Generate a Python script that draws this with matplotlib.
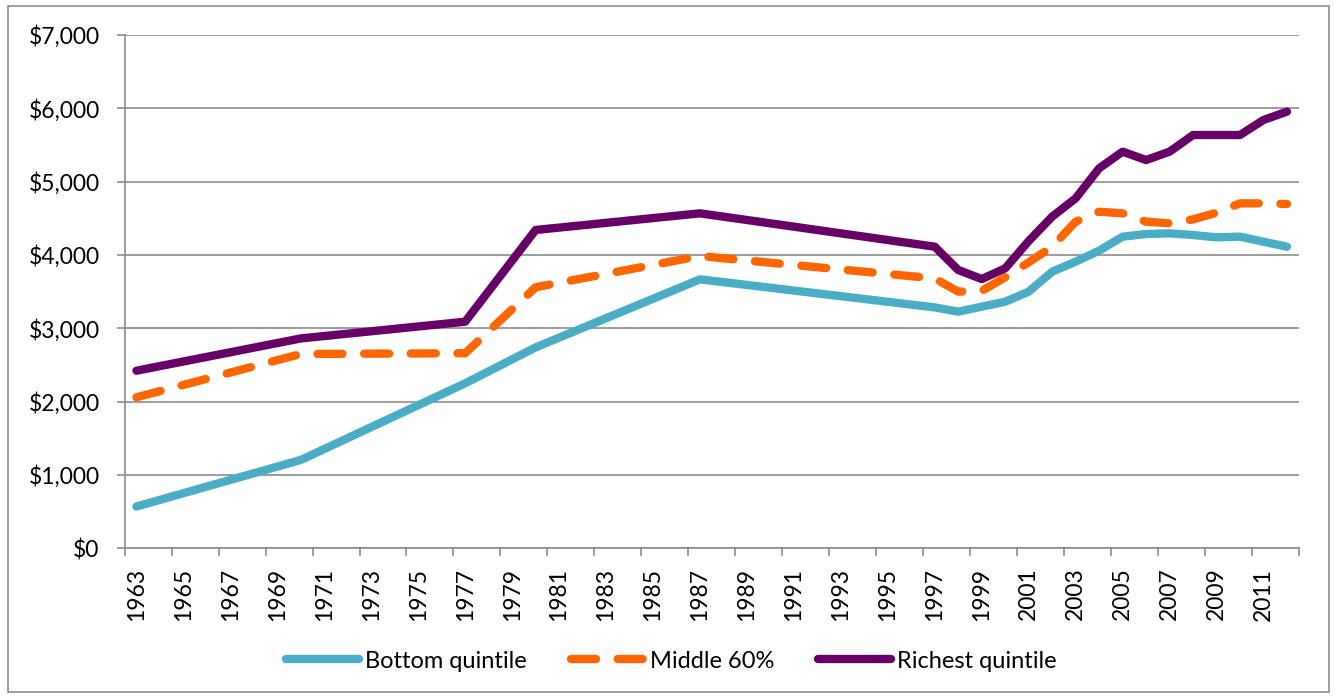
import matplotlib
matplotlib.use("Agg")
import matplotlib.pyplot as plt
from matplotlib.patches import Rectangle
from matplotlib.ticker import FuncFormatter

years = [1963, 1970, 1977, 1980, 1987, 1997, 1998, 1999, 2000, 2001, 2002,
         2003, 2004, 2005, 2006, 2007, 2008, 2009, 2010, 2011, 2012]
bottom = [570, 1205, 2250, 2740, 3668, 3285, 3227, 3295, 3363, 3500, 3772,
          3909, 4059, 4250, 4286, 4295, 4272, 4241, 4250, 4181, 4113]
middle = [2059, 2650, 2660, 3560, 3986, 3680, 3500, 3510, 3696, 3900, 4113,
          4454, 4590, 4568, 4454, 4432, 4486, 4577, 4704, 4704, 4695]
richest = [2422, 2862, 3090, 4341, 4568, 4113, 3795, 3672, 3818, 4190, 4523,
           4773, 5182, 5409, 5295, 5409, 5636, 5636, 5636, 5841, 5955]

series_names = ["Bottom quintile", "Middle 60%", "Richest quintile"]
label_years = list(range(1963, 2012, 2))
y_ticks = list(range(0, 7001, 1000))

plt.rcParams['font.family'] = ['Lato', 'DejaVu Sans']

fig = plt.figure(figsize=(13.35, 6.98), dpi=100)
ax = fig.add_axes([124.7 / 1335, 1 - 548.3 / 698, (1298.7 - 124.7) / 1335, (548.3 - 35) / 698])

grid_c = '#8c8c8c'
lw = 6
ax.plot(years, bottom, color='#4BACC6', lw=lw, solid_capstyle='round',
        solid_joinstyle='round', label=series_names[0], zorder=3)
ax.plot(years, middle, color='#FF6600', lw=lw, dashes=(3, 2.6),
        dash_capstyle='round', dash_joinstyle='round', label=series_names[1], zorder=3)
ax.plot(years, richest, color='#660066', lw=lw, solid_capstyle='round',
        solid_joinstyle='round', label=series_names[2], zorder=3)

ax.set_xlim(1962.5, 2012.5)
ax.set_ylim(0, 7000)
ax.set_yticks(y_ticks)
ax.yaxis.set_major_formatter(FuncFormatter(lambda v, p: "${:,.0f}".format(v)))
ax.set_xticks(label_years)
ax.set_xticklabels([str(y) for y in label_years], rotation=90)
ax.set_xticks([1962.5 + 2 * k for k in range(26)], minor=True)
ax.tick_params(axis='x', which='major', length=0, pad=14, labelsize=16.5, colors='black')
ax.tick_params(axis='x', which='minor', length=6, width=1.2, color=grid_c, direction='out')
ax.tick_params(axis='y', length=6, width=1.2, color=grid_c, pad=12, labelsize=16.5)

ax.grid(axis='y', color=grid_c, lw=1.2, zorder=0)
for s in ['top', 'right']:
    ax.spines[s].set_visible(False)
ax.spines['left'].set_color(grid_c)
ax.spines['bottom'].set_color(grid_c)
ax.spines['left'].set_linewidth(1.2)
ax.spines['bottom'].set_linewidth(1.2)
ax.set_axisbelow(True)

leg = fig.legend(loc='center', bbox_to_anchor=(0.503, 1 - 661 / 698), ncol=3,
                 frameon=False, fontsize=17, handlelength=3.1, handletextpad=0.25,
                 columnspacing=1.85)

fig.patches.append(Rectangle((8 / 1335, 1 - 692 / 698), (1329 - 8) / 1335, (692 - 6) / 698,
                             transform=fig.transFigure, fill=False, edgecolor=grid_c, lw=1.2))

fig.savefig('out.png', dpi=100, facecolor='white')
